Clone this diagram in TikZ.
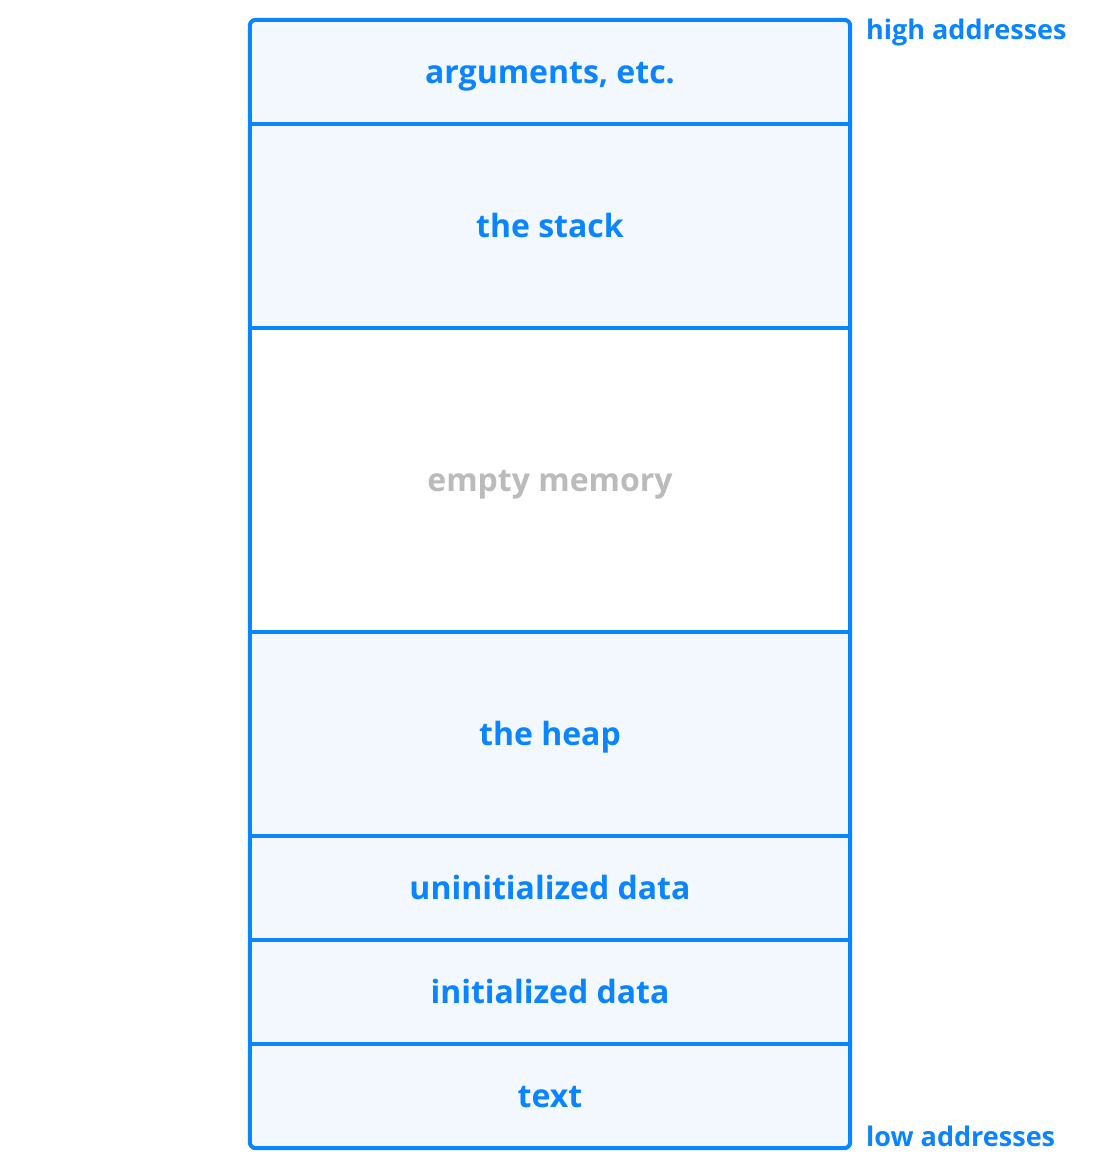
\documentclass[tikz,border=0pt]{standalone}
\usepackage{fontspec}
\setmainfont{Open Sans}
\usepackage{tikz}
\definecolor{memblue}{HTML}{0A84FF}
\definecolor{memfill}{HTML}{F3F8FE}
\definecolor{memgray}{HTML}{BBBBBB}

\begin{document}
\begin{tikzpicture}[x=1pt, y=-1pt,
    seg/.style={rectangle, fill=memfill, inner sep=0pt, minimum width=600pt,
      text height=23pt, text depth=0pt,
      text=memblue, font=\fontsize{32}{38}\selectfont\bfseries},
    addr/.style={anchor=base west, text=memblue, inner sep=0pt,
      font=\fontsize{27}{32}\selectfont\bfseries},
    wall/.style={draw=memblue, line width=4pt}]
        \useasboundingbox (0,0) rectangle (1100,1168);

        % The segments, top to bottom
        \node[seg, minimum height=104pt] (args) at (550,72) {arguments, etc.};
        \node[seg, minimum height=204pt] (stack) at (550,226) {the stack};
        \node[seg, minimum height=304pt, fill=white, text=memgray] (empty) at (550,480) {empty memory};
        \node[seg, minimum height=204pt] (heap) at (550,734) {the heap};
        \node[seg, minimum height=104pt] (uninit) at (550,888) {uninitialized data};
        \node[seg, minimum height=104pt] (init) at (550,992) {initialized data};
        \node[seg, minimum height=104pt] (text) at (550,1096) {text};

        % Dividers and outer frame
        \foreach \seg in {stack, empty, heap, uninit, init, text}
            \draw[wall] (\seg.north west) -- (\seg.north east);
        \draw[wall, rounded corners=6pt] (args.north west) rectangle (text.south east);

        % Address labels
        \node[addr] (high) at (866,39) {high addresses};
        \node[addr] (low) at (866,1146) {low addresses};
    \end{tikzpicture}
\end{document}
